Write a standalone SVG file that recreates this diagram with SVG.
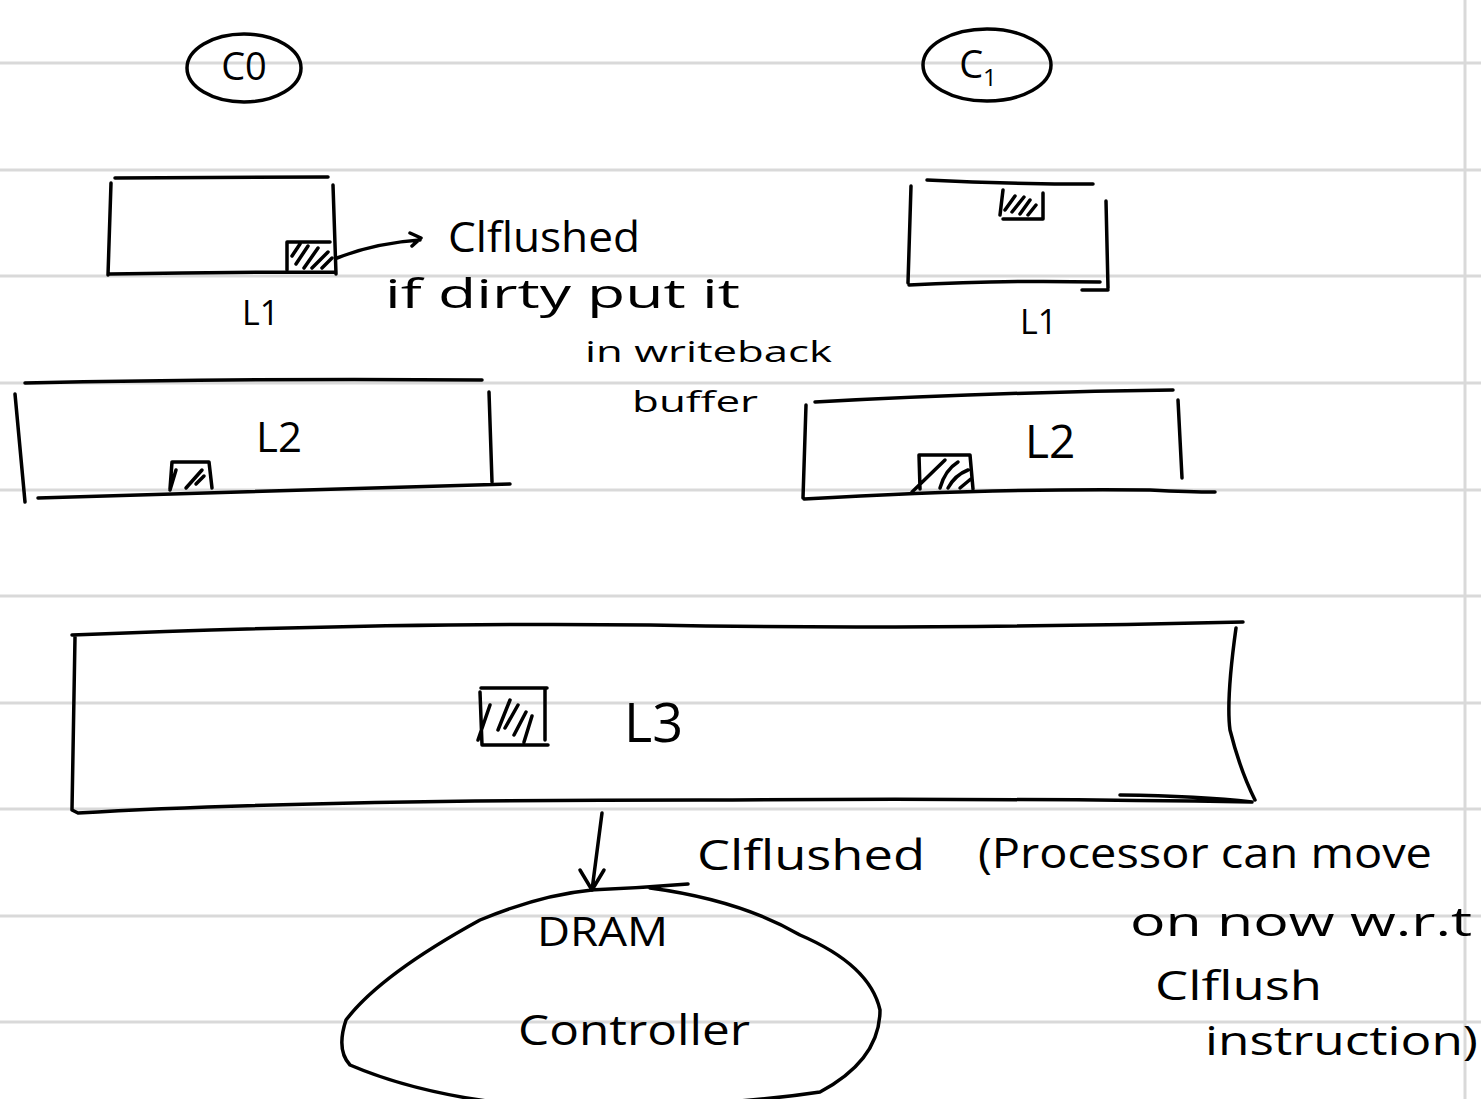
<svg xmlns="http://www.w3.org/2000/svg" width="1481" height="1099" viewBox="0 0 1481 1099">
<style>
.rule{stroke:#d9d9d9;stroke-width:3;fill:none}
.ink{stroke:#000;stroke-width:3.5;fill:none;stroke-linecap:round;stroke-linejoin:round}
.t{font-family:"Open Sans","Liberation Sans",sans-serif;fill:#000}
</style>
<rect width="1481" height="1099" fill="#fff"/>
<g id="paper">
<path class="rule" d="M0 63H1481M0 170H1481M0 276H1481M0 383H1481M0 490H1481M0 596H1481M0 703H1481M0 809H1481M0 916H1481M0 1022H1481"/>
<path class="rule" d="M1465 0V1099"/>
</g>
<g id="c0">
<ellipse class="ink" cx="244" cy="68" rx="57" ry="34"/>
<text class="t" x="244" y="80" font-size="38" text-anchor="middle">C0</text>
</g>
<g id="c1">
<ellipse class="ink" cx="987" cy="65" rx="64" ry="36"/>
<text class="t" x="978" y="78" font-size="38" text-anchor="middle">C<tspan font-size="24" dy="8">1</tspan></text>
</g>
<g id="l1-left">
<path class="ink" d="M115 178L328 177M111 183L108 275M110 274Q220 272 335 272M333 185L336 274"/>
<path class="ink" d="M287 270V242H330M300 244L292 256M308 246L296 264M318 248L304 268M328 252L312 268M332 258L322 268"/>
<text class="t" x="242" y="325" font-size="34">L1</text>
</g>
<g id="l2-left">
<path class="ink" d="M25 383Q260 378 482 380M15 394L25 502M38 498Q280 490 510 484M489 392L492 482"/>
<path class="ink" d="M170 489L172 462H209L212 488M176 470L170 490M202 470L186 488M196 484L204 476"/>
<text class="t" x="256" y="452" font-size="42">L2</text>
</g>
<g id="l1-right">
<path class="ink" d="M927 180Q1010 184 1093 184M911 186L908 283M909 285Q1000 280 1100 282M1106 201L1108 288M1082 290L1108 290"/>
<path class="ink" d="M1000 215L1003 190M1003 219H1043V193M1005 210L1015 196M1012 212L1024 197M1020 214L1030 200M1028 215L1036 205"/>
<text class="t" x="1020" y="334" font-size="34">L1</text>
</g>
<g id="l2-right">
<path class="ink" d="M815 402Q1000 392 1173 390M806 405L803 498M804 499Q1000 488 1150 490Q1190 492 1215 492M1178 400L1182 478"/>
<path class="ink" d="M920 489L919 455H970L973 489M912 492L945 460M940 488Q945 470 958 462M948 488Q955 475 968 470M960 488L972 478"/>
<text class="t" x="1025" y="458" font-size="46">L2</text>
</g>
<g id="l3">
<path class="ink" d="M72 635Q400 622 650 625Q900 630 1243 622M75 637L72 810L78 813Q300 800 700 800Q1000 798 1252 802M1236 628Q1226 700 1230 730Q1240 770 1255 800M1120 795Q1200 796 1252 802"/>
<path class="ink" d="M481 688H547M480 692L482 745H548M545 688V740M490 705L478 740M510 700L498 730M518 705L505 728M526 712L514 735M532 716L524 742"/>
<text class="t" x="624" y="742" font-size="54">L3</text>
</g>
<g id="dram">
<path class="ink" d="M592 890Q540 895 480 920Q380 975 346 1020Q336 1050 350 1065Q420 1095 520 1105Q700 1110 820 1092Q880 1060 880 1010Q870 965 800 935Q740 900 650 888M590 890Q640 888 688 884"/>
<text class="t" x="537" y="946" font-size="40" textLength="131" lengthAdjust="spacingAndGlyphs">DRAM</text>
<text class="t" x="518" y="1045" font-size="42" textLength="232" lengthAdjust="spacingAndGlyphs">Controller</text>
</g>
<g id="connectors">
<path class="ink" d="M337 258Q375 243 420 240M410 233L421 238L412 246"/>
<path class="ink" d="M602 813L592 890M580 870L592 890L604 870"/>
</g>
<g id="notes">
<text class="t" x="448" y="252" font-size="42" textLength="192" lengthAdjust="spacingAndGlyphs">Clflushed</text>
<text class="t" x="385" y="308" font-size="40" textLength="355" lengthAdjust="spacingAndGlyphs">if dirty put it</text>
<text class="t" x="585" y="362" font-size="30" textLength="247" lengthAdjust="spacingAndGlyphs">in writeback</text>
<text class="t" x="632" y="412" font-size="30" textLength="126" lengthAdjust="spacingAndGlyphs">buffer</text>
<text class="t" x="697" y="870" font-size="42" textLength="228" lengthAdjust="spacingAndGlyphs">Clflushed</text>
<text class="t" x="978" y="868" font-size="42" textLength="454" lengthAdjust="spacingAndGlyphs">(Processor can move</text>
<text class="t" x="1130" y="936" font-size="40" textLength="342" lengthAdjust="spacingAndGlyphs">on now  w.r.t</text>
<text class="t" x="1155" y="1000" font-size="40" textLength="167" lengthAdjust="spacingAndGlyphs">Clflush</text>
<text class="t" x="1205" y="1055" font-size="40" textLength="273" lengthAdjust="spacingAndGlyphs">instruction)</text>
</g>
</svg>
